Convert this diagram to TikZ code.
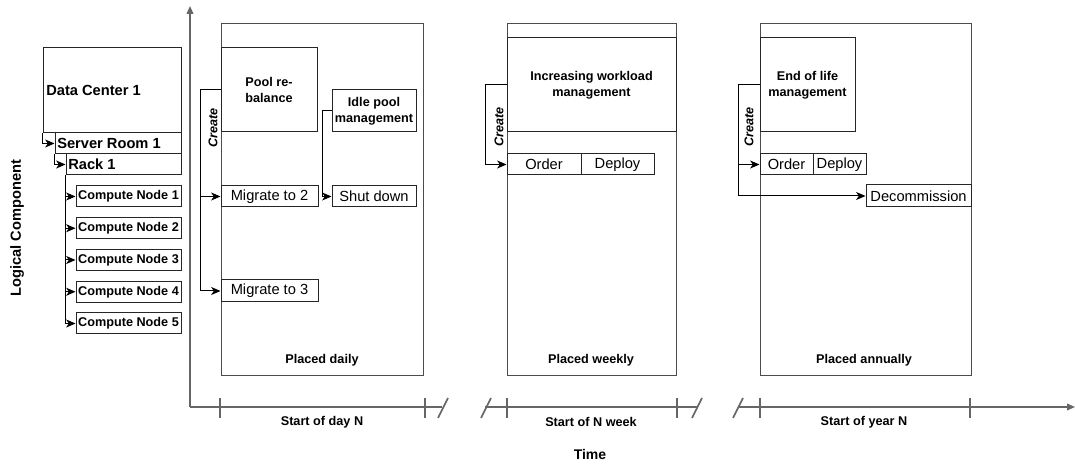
\documentclass[tikz,border=0pt]{standalone}
\usepackage{fontspec}
\setmainfont{Liberation Sans}
\usetikzlibrary{fit,arrows.meta}
\begin{document}
\begin{tikzpicture}[x=0.75pt,y=-0.75pt,
  bx/.style={draw=black!85, line width=0.75pt, inner sep=0pt},
  pnl/.style={draw=black!70, line width=0.75pt, inner sep=0pt},
  arr/.style={draw=black, line width=0.75pt, -{Stealth[length=7pt,width=6pt,inset=2pt]}},
  ax/.style={draw=black!60, line width=1.2pt},
  bl/.style={font=\fontsize{9.5}{12}\selectfont\bfseries, align=center},
  cnf/.style={font=\fontsize{9.5}{11}\selectfont\bfseries},
  big/.style={font=\fontsize{11}{13}\selectfont\bfseries},
  rg/.style={font=\fontsize{11}{13}\selectfont},
  crt/.style={font=\fontsize{9.5}{11}\selectfont\bfseries\itshape, rotate=90, inner sep=0pt},
  ]
\useasboundingbox (0,0) rectangle (1075,466);

% ---------- hierarchy on the left ----------
\node[bx, fit={(43,48) (181,133)}] (dc) {};
\node[big, anchor=west, inner sep=0pt] (dct) at (46,90) {Data Center 1};
\node[bx, fit={(55,133) (181,154)}] (sr) {};
\node[big, anchor=west, inner sep=0pt] (srt) at (57,143.5) {Server Room 1};
\node[bx, fit={(66,154) (181,175)}] (rack) {};
\node[big, anchor=west, inner sep=0pt] (rackt) at (68,164.5) {Rack 1};
\foreach \i in {1,...,5}{
  \pgfmathsetmacro{\ya}{186+31.75*(\i-1)}
  \pgfmathsetmacro{\yb}{\ya+21}
  \node[bx, fit={(76,\ya) (181,\yb)}] (cn\i) {};
  \node[cnf] (cnt\i) at (cn\i.center) {Compute Node \i};
}
\draw[arr] (dc.south west) |- (sr.west);
\draw[arr] (sr.south west) |- (rack.west);
\foreach \i in {1,...,5}{\draw[arr] (rack.south west) |- (cn\i.west);}

\node[big, rotate=90] (lc) at (17,228) {Logical Component};

% ---------- axes ----------
\coordinate (o) at (190,407);
\coordinate (ytop) at (190,6);
\draw[ax, -{Triangle[length=6pt,width=5pt]}] (o) -- (ytop);
\draw[ax] (o) -- (442,407);
\draw[ax] (485,407) -- (697,407);
\draw[ax, -{Triangle[length=6pt,width=5pt]}] (738,407) -- (1075,407);
\foreach \x in {220,425,507,677,760,970}{\draw[ax] (\x,398) -- (\x,418);}
\foreach \x in {438,481,692,733}{\draw[ax] (\x,418) -- (\x+10,398);}
\node[bl] (t1) at (322,422) {Start of day N};
\node[bl] (t2) at (591,422) {Start of N week};
\node[bl] (t3) at (864,422) {Start of year N};
\node[font=\fontsize{10.5}{12}\selectfont\bfseries] (time) at (590,454) {Time};

% ---------- panel 1: daily ----------
\node[pnl, fit={(221,24) (423,376)}] (p1) {};
\node[bx, fit={(221,48) (317,132)}] (pool) {};
\node[bl] (poolt) at (pool.center) {Pool re-\\balance};
\node[bx, fit={(332,90) (416,132)}] (idle) {};
\node[bl] (idlet) at (idle.center) {Idle pool\\management};
\node[bx, fit={(221,186) (318,207)}] (m2) {};
\node[rg] (m2t) at (m2.center) {Migrate to 2};
\node[bx, fit={(221,280) (318,302)}] (m3) {};
\node[rg] (m3t) at (m3.center) {Migrate to 3};
\node[bx, fit={(332,186) (416,207)}] (shut) {};
\node[rg] (shutt) at (shut.center) {Shut down};
\draw[arr] (pool.west) -- ++(-20,0) |- (m2.west);
\draw[arr] (pool.west) -- ++(-20,0) |- (m3.west);
\draw[arr] (idle.west) -- ++(-9,0) |- (shut.west);
\node[crt] (c1) at (213,128) {Create};
\node[bl] (pd) at (322,360) {Placed daily};

% ---------- panel 2: weekly ----------
\node[pnl, fit={(507,24) (676,376)}] (p2) {};
\node[bx, fit={(507,38) (676,132)}] (iwm) {};
\node[bl] (iwmt) at (iwm.center) {Increasing workload\\management};
\node[bx, fit={(507,154) (581,175)}] (o2) {};
\node[rg] (o2t) at (o2.center) {Order};
\node[bx, fit={(581,154) (654,175)}] (d2) {};
\node[rg] (d2t) at (d2.center) {Deploy};
\draw[arr] (iwm.west) -- ++(-21,0) |- (o2.west);
\node[crt] (c2) at (499,127) {Create};
\node[bl] (pw) at (591,360) {Placed weekly};

% ---------- panel 3: annually ----------
\node[pnl, fit={(760,24) (971,376)}] (p3) {};
\node[bx, fit={(760,38) (855,132)}] (eol) {};
\node[bl] (eolt) at (eol.center) {End of life\\management};
\node[bx, fit={(760,154) (813,175)}] (o3) {};
\node[rg] (o3t) at (o3.center) {Order};
\node[bx, fit={(813,154) (866,175)}] (d3) {};
\node[rg] (d3t) at (d3.center) {Deploy};
\node[bx, fit={(866,185) (971,207)}] (dec) {};
\node[rg] (dect) at (dec.center) {Decommission};
\draw[arr] (eol.west) -- ++(-21,0) |- (o3.west);
\draw[arr] (eol.west) -- ++(-21,0) |- (dec.west);
\node[crt] (c3) at (749,127) {Create};
\node[bl] (pa) at (864,360) {Placed annually};
\end{tikzpicture}
\end{document}
